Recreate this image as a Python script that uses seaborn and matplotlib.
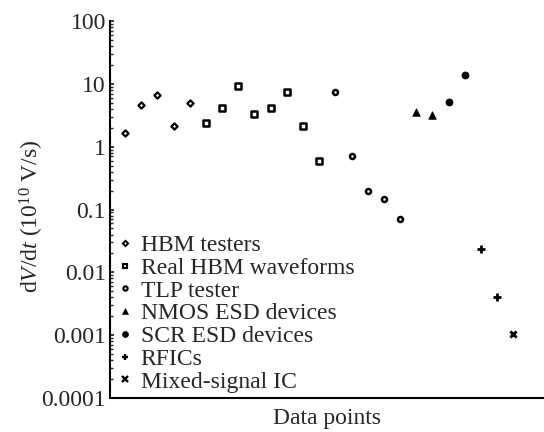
import numpy as np
import pandas as pd
import matplotlib
matplotlib.use("Agg")
import matplotlib.pyplot as plt
import seaborn as sns
from matplotlib.lines import Line2D
from matplotlib.ticker import LogLocator, FixedFormatter, FixedLocator, NullFormatter

# ---- data ----
series_names = ["HBM testers", "Real HBM waveforms", "TLP tester",
                "NMOS ESD devices", "SCR ESD devices", "RFICs", "Mixed-signal IC"]
hbm = [1.65, 4.6, 6.6, 2.15, 4.9]
real_hbm = [2.4, 4.15, 9.3, 3.3, 4.05, 7.4, 2.1, 0.6]
tlp = [7.4, 0.70, 0.20, 0.145, 0.071]
nmos = [3.6, 3.2]
scr = [5.2, 13.7]
rfic = [0.0235, 0.0040]
mixed = [0.00105]
ytick_vals = [0.0001, 0.001, 0.01, 0.1, 1, 10, 100]
ytick_labels = ["0.0001", "0.001", "0.01", "0.1", "1", "10", "100"]

values = [hbm, real_hbm, tlp, nmos, scr, rfic, mixed]
rows = []
i = 1
for name, vals in zip(series_names, values):
    for v in vals:
        rows.append({"idx": i, "dvdt": v, "series": name})
        i += 1
df = pd.DataFrame(rows)

# ---- style ----
sns.set_theme(style="white")
plt.rcParams["font.family"] = ["Liberation Serif", "DejaVu Serif"]
plt.rcParams["mathtext.fontset"] = "custom"
plt.rcParams["mathtext.rm"] = "Liberation Serif"
plt.rcParams["mathtext.it"] = "Liberation Serif:italic"
FS = 17

styles = {
    "HBM testers": dict(marker="D", s=10, facecolor="white", edgecolor="black", linewidth=1.6),
    "Real HBM waveforms": dict(marker="s", s=13, facecolor="white", edgecolor="black", linewidth=1.8),
    "TLP tester": dict(marker="o", s=13, facecolor="white", edgecolor="black", linewidth=1.8),
    "NMOS ESD devices": dict(marker="^", s=30, facecolor="black", edgecolor="black", linewidth=0.5),
    "SCR ESD devices": dict(marker="o", s=26, facecolor="black", edgecolor="black", linewidth=0.5),
    "RFICs": dict(marker="+", s=30, color="black", linewidth=2.0),
    "Mixed-signal IC": dict(marker="x", s=20, color="black", linewidth=2.0),
}

fig = plt.figure(figsize=(5.44, 4.32), dpi=100)
ax = fig.add_axes([110/544, 1-398/432, 1-110/544, (398-21)/432])

for name in series_names:
    sub = df[df["series"] == name]
    sns.scatterplot(data=sub, x="idx", y="dvdt", ax=ax, legend=False, **styles[name])

ax.set_yscale("log")
ax.set_ylim(1e-4, 100)
ax.set_xlim(0.07, 26.9)
ax.set_xticks([])
ax.yaxis.set_major_locator(FixedLocator(ytick_vals))
ax.yaxis.set_major_formatter(FixedFormatter(ytick_labels))
ax.yaxis.set_minor_locator(LogLocator(base=10, subs=np.arange(2, 10), numticks=20))
ax.yaxis.set_minor_formatter(NullFormatter())
ax.tick_params(axis="y", which="major", direction="in", length=3.2, width=1.3,
               labelsize=FS, pad=3, left=True)
ax.tick_params(axis="y", which="minor", direction="in", length=2.5, width=1.0, left=True)

for side in ["top", "right"]:
    ax.spines[side].set_visible(False)
for side in ["left", "bottom"]:
    ax.spines[side].set_linewidth(1.5)
    ax.spines[side].set_color("black")

ax.set_xlabel("Data points", fontsize=FS, labelpad=7.5)
ax.set_ylabel(r"d$V$/d$t$ (10$^{10}$ V/s)", fontsize=FS)
ax.yaxis.set_label_coords(-0.1475, 0.481)

handles = []
for name in series_names:
    st = styles[name]
    ms = np.sqrt(st["s"]) * 0.85
    if st["marker"] in ["+", "x"]:
        h = Line2D([], [], linestyle="none", marker=st["marker"], markersize=ms,
                   color="black", markeredgewidth=st["linewidth"] * 0.85)
    else:
        h = Line2D([], [], linestyle="none", marker=st["marker"], markersize=ms,
                   markerfacecolor=st["facecolor"], markeredgecolor="black",
                   markeredgewidth=st["linewidth"] * 0.85)
    handles.append(h)

ax.legend(handles, series_names, loc="lower left", bbox_to_anchor=(0.0085, 0),
          frameon=False, fontsize=FS, handlelength=0.5, handletextpad=0.41,
          borderaxespad=0, borderpad=0.23, labelspacing=0.05)

fig.savefig("out.png", dpi=100)
